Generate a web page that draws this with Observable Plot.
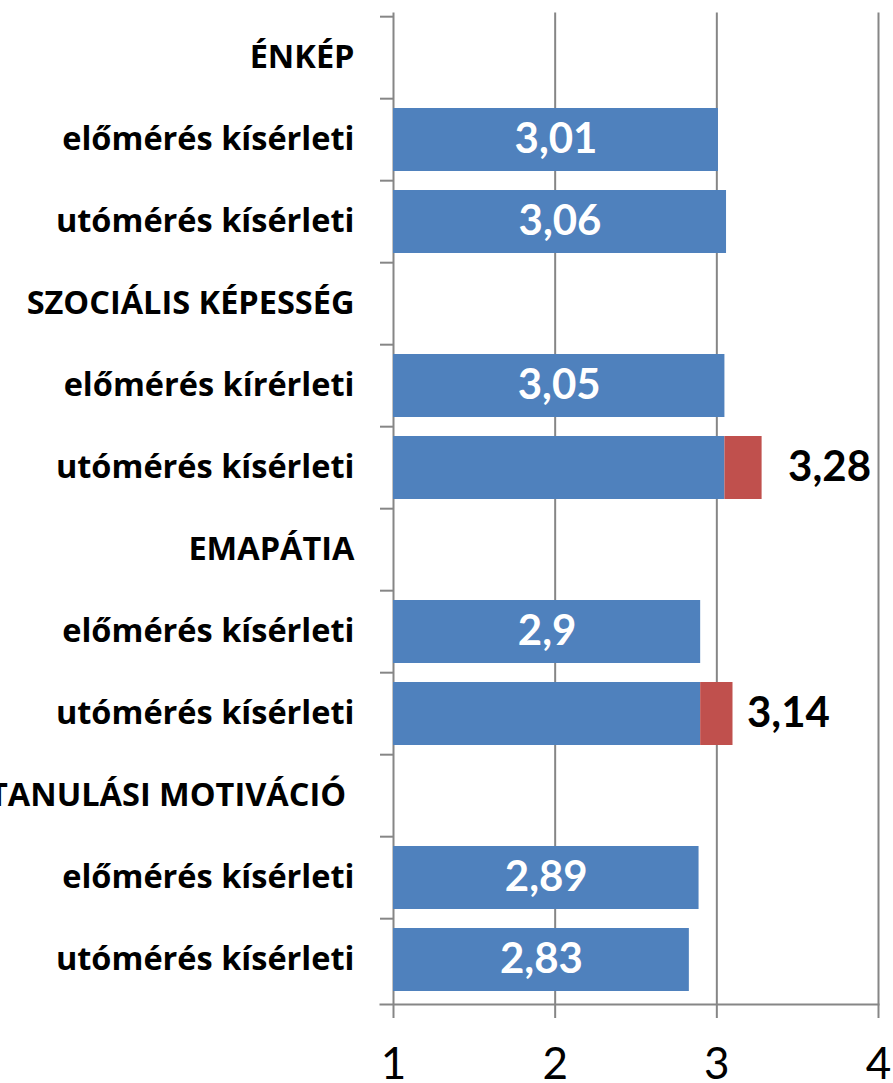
<!DOCTYPE html>
<html>
<head>
<meta charset="utf-8">
<script src="https://cdn.jsdelivr.net/npm/d3@7"></script>
<script src="https://cdn.jsdelivr.net/npm/@observablehq/plot@0.6"></script>
<style>
  html, body { margin: 0; padding: 0; background: #fff; }
</style>
</head>
<body>
<div id="chart"></div>
<script>
const categories = [
  "ÉNKÉP",
  "előmérés kísérleti",
  "utómérés kísérleti",
  "SZOCIÁLIS KÉPESSÉG",
  "előmérés kírérleti",
  "utómérés kísérleti",
  "EMAPÁTIA",
  "előmérés kísérleti",
  "utómérés kísérleti",
  "TANULÁSI MOTIVÁCIÓ\u00a0",
  "előmérés kísérleti",
  "utómérés kísérleti"
];
const blueValues = [null, 3.01, 3.06, null, 3.05, 3.05, null, 2.9, 2.9, null, 2.89, 2.83];
const redValues  = [null, null, null, null, null, 3.28, null, null, 3.10, null, null, null];
const insideLabels = ["", "3,01", "3,06", "", "3,05", "", "", "2,9", "", "", "2,89", "2,83"];
const outsideLabels = ["", "", "", "", "", "3,28", "", "", "3,14", "", "", ""];
const xTicks = [1, 2, 3, 4];

const rows = categories.map((c, i) => ({
  i, label: c, blue: blueValues[i], red: redValues[i],
  inside: insideLabels[i], outside: outsideLabels[i]
}));

const W = 893, H = 1083;
const mTop = 12.5, mBottom = 79, mLeft = 393, mRight = 15;
const step = (H - mTop - mBottom) / categories.length;
const gray = "#868686";
const font = "Lato, 'Open Sans', sans-serif";
const labelFont = "'Open Sans', Lato, sans-serif";

const chart = Plot.plot({
  width: W,
  height: H,
  marginTop: mTop,
  marginBottom: mBottom,
  marginLeft: mLeft,
  marginRight: mRight,
  style: { fontFamily: font, background: "#fff", color: "#000" },
  x: { domain: [1, 4], label: null },
  y: { domain: d3.range(categories.length), paddingInner: 0.235, paddingOuter: 0.1175, label: null },
  marks: [
    Plot.ruleX(xTicks, { stroke: gray, strokeWidth: 2 }),
    Plot.barX(rows.filter(d => d.blue != null), { y: "i", x1: () => 1, x2: "blue", fill: "#4F81BD" }),
    Plot.barX(rows.filter(d => d.red != null), { y: "i", x1: "blue", x2: "red", fill: "#C0504D" }),
    Plot.text(rows.filter(d => d.inside), {
      y: "i", x: d => (1 + d.blue) / 2, text: "inside",
      fill: "#fff", fontSize: 42, fontWeight: "bold"
    }),
    Plot.text(rows.filter(d => d.outside === "3,28"), {
      y: "i", x: "red", text: "outside", textAnchor: "start", dx: 26,
      fill: "#000", fontSize: 42, fontWeight: "bold"
    }),
    Plot.text(rows.filter(d => d.outside === "3,14"), {
      y: "i", x: "red", text: "outside", textAnchor: "start", dx: 14,
      fill: "#000", fontSize: 42, fontWeight: "bold"
    }),
    Plot.axisY({
      tickSize: 0, tickPadding: 39, tickFormat: i => categories[i], label: null,
      fontSize: 32.5, fontWeight: "bold", fill: "#000", fontFamily: labelFont
    }),
    Plot.axisY({
      tickSize: 13, tickFormat: () => "", dy: -step / 2, label: null,
      stroke: gray, strokeWidth: 2
    }),
    Plot.frame({ anchor: "bottom", insetLeft: -13, stroke: gray, strokeWidth: 2 }),
    Plot.axisX({
      ticks: xTicks, tickSize: 14, tickPadding: 29, tickFormat: d => String(d), label: null,
      fontSize: 44, stroke: gray, strokeWidth: 2, fill: "#000"
    })
  ]
});

document.getElementById("chart").appendChild(chart);
</script>
</body>
</html>
